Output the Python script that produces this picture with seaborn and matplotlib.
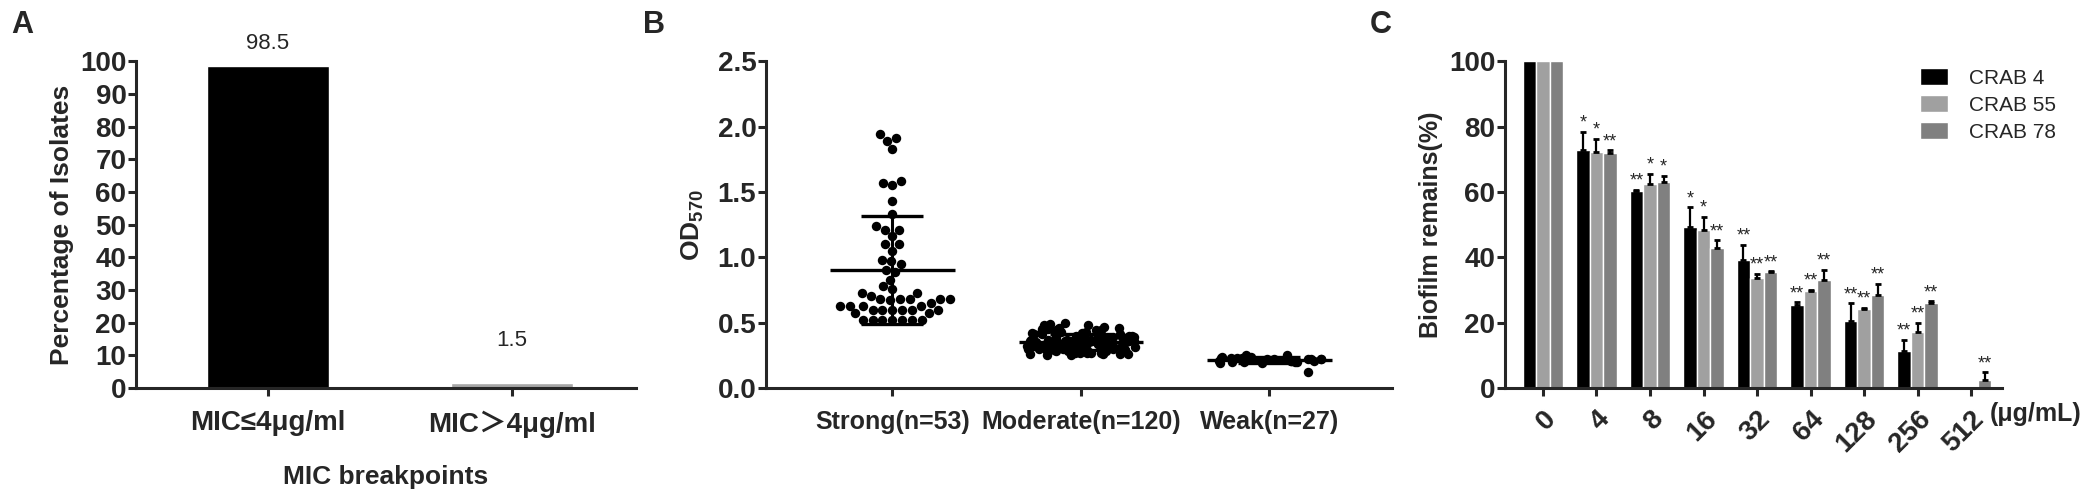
import numpy as np
import pandas as pd
import matplotlib
matplotlib.use('Agg')
import matplotlib.pyplot as plt
import seaborn as sns

# ---- panel A data
mic_groups = ['MIC≤4μg/ml', 'MIC＞4μg/ml']
mic_percent = [98.5, 1.5]
mic_colors = ['#000000', '#a6a6a6']

# ---- panel B data (OD570 per isolate)
biofilm_groups = ['Strong(n=53)', 'Moderate(n=120)', 'Weak(n=27)']
strong_od = [1.94, 1.91, 1.89, 1.83, 1.57, 1.58, 1.55, 1.43, 1.33, 1.24,
             1.21, 1.21, 1.16, 1.10, 1.10, 1.05, 0.97, 0.98, 0.95, 0.90,
             0.89, 0.83, 0.76, 0.78, 0.73, 0.73, 0.70, 0.68, 0.68, 0.68,
             0.68, 0.68, 0.67, 0.65, 0.63, 0.63, 0.63, 0.63, 0.60, 0.60,
             0.60, 0.60, 0.60, 0.60, 0.57, 0.57, 0.52, 0.52, 0.52, 0.52,
             0.52, 0.52, 0.52]
moderate_od = [0.27, 0.31, 0.35, 0.42, 0.29, 0.38, 0.33, 0.45, 0.26, 0.36,
               0.30, 0.40, 0.34, 0.28, 0.44, 0.37, 0.32, 0.48, 0.29, 0.35,
               0.39, 0.27, 0.33, 0.41, 0.36, 0.30, 0.46, 0.34, 0.28, 0.38,
               0.31, 0.43, 0.35, 0.26, 0.37, 0.32, 0.40, 0.29, 0.50, 0.34,
               0.36, 0.28, 0.42, 0.33, 0.30, 0.39, 0.27, 0.35, 0.44, 0.31,
               0.37, 0.25, 0.34, 0.41, 0.29, 0.36, 0.47, 0.32, 0.38, 0.28,
               0.33, 0.40, 0.30, 0.35, 0.43, 0.27, 0.37, 0.31, 0.39, 0.49,
               0.26, 0.34, 0.38, 0.29, 0.36, 0.42, 0.32, 0.28, 0.45, 0.35,
               0.30, 0.37, 0.33, 0.40, 0.27, 0.34, 0.39, 0.31, 0.36, 0.46,
               0.29, 0.35, 0.41, 0.32, 0.38, 0.26, 0.44, 0.33, 0.37, 0.30,
               0.34, 0.28, 0.39, 0.36, 0.31, 0.43, 0.35, 0.27, 0.40, 0.32,
               0.38, 0.30, 0.35, 0.48, 0.33, 0.29, 0.37, 0.42, 0.25, 0.36]
weak_od = [0.23, 0.21, 0.24, 0.22, 0.20, 0.25, 0.22, 0.19, 0.23, 0.21,
           0.24, 0.22, 0.22, 0.12, 0.20, 0.23, 0.21, 0.21, 0.24, 0.19,
           0.22, 0.25, 0.20, 0.23, 0.21, 0.22, 0.20]

# ---- panel C data (biofilm remaining %, mean and SD)
conc = ['0', '4', '8', '16', '32', '64', '128', '256', '512']
strains = ['CRAB 4', 'CRAB 55', 'CRAB 78']
crab4 = [100, 72.7, 60.2, 49.4, 39.3, 25.5, 20.6, 11.2, 0]
crab4_sd = [0, 5.7, 0.5, 5.9, 4.6, 0.7, 5.4, 3.6, 0]
crab55 = [100, 72.1, 62.4, 48.2, 33.6, 29.7, 24.1, 17.0, 0]
crab55_sd = [0, 4.2, 3.2, 4.2, 1.3, 0.4, 0.5, 2.9, 0]
crab78 = [100, 71.9, 62.9, 42.9, 35.4, 33.0, 28.4, 25.9, 2.6]
crab78_sd = [0, 0.8, 2.1, 2.3, 0.3, 3.2, 3.5, 0.6, 2.3]
crab4_sig = ['', '*', '**', '*', '**', '**', '**', '**', '']
crab55_sig = ['', '*', '*', '*', '**', '**', '**', '**', '']
crab78_sig = ['', '**', '*', '**', '**', '**', '**', '**', '**']
strain_colors = ['#000000', '#a0a0a0', '#808080']

sns.set_style('ticks')
plt.rcParams['font.family'] = ['Liberation Sans', 'Noto Sans CJK SC', 'DejaVu Sans']
plt.rcParams['mathtext.fontset'] = 'custom'
plt.rcParams['mathtext.rm'] = 'Liberation Sans:bold'
plt.rcParams['mathtext.default'] = 'rm'

fig = plt.figure(figsize=(20.81, 4.96), dpi=100)
axA = fig.add_axes([0.0654, 0.2177, 0.2402, 0.659])
axB = fig.add_axes([0.3681, 0.2177, 0.3008, 0.659])
axC = fig.add_axes([0.7232, 0.2177, 0.2389, 0.659])


def style_axis(ax, xsize=20):
    sns.despine(ax=ax)
    for s in ['left', 'bottom']:
        ax.spines[s].set_linewidth(2.2)
    ax.tick_params(axis='both', width=2.2, length=6, labelsize=20)
    ax.tick_params(axis='x', labelsize=xsize, pad=10)
    ax.tick_params(axis='y', pad=1)
    for lab in ax.get_xticklabels() + ax.get_yticklabels():
        lab.set_fontweight('bold')


# ---------------- A
df_a = pd.DataFrame({'group': mic_groups, 'percent': mic_percent})
sns.barplot(x='group', y='percent', data=df_a, hue='group', palette=mic_colors,
            width=0.5, saturation=1, legend=False, ax=axA)
for i, (v, off) in enumerate(zip(mic_percent, [16, 31])):
    axA.annotate(str(v), (i, v), xytext=(0, off), textcoords='offset points',
                 ha='center', va='center', fontsize=16)
axA.set_ylim(0, 100)
axA.set_yticks(range(0, 101, 10))
axA.set_xlim(-0.54, 1.51)
axA.set_xlabel('MIC breakpoints', fontsize=19, fontweight='bold', labelpad=20)
axA.set_ylabel('Percentage of Isolates', fontsize=19, fontweight='bold', labelpad=4)
style_axis(axA)

# ---------------- B
df_b = pd.DataFrame({
    'group': [biofilm_groups[0]] * len(strong_od) + [biofilm_groups[1]] * len(moderate_od)
             + [biofilm_groups[2]] * len(weak_od),
    'od': strong_od + moderate_od + weak_od,
})
np.random.seed(3)
sns.swarmplot(x='group', y='od', data=df_b[df_b['group'] == biofilm_groups[0]],
              order=biofilm_groups, color='black', size=6.8, ax=axB)
sns.stripplot(x='group', y='od', data=df_b[df_b['group'] != biofilm_groups[0]],
              order=biofilm_groups, color='black', size=6.8, jitter=0.3, ax=axB)
stats = df_b.groupby('group', sort=False)['od'].agg(['mean', 'std'])
for i, g in enumerate(biofilm_groups):
    m, sd = stats.loc[g, 'mean'], stats.loc[g, 'std']
    axB.hlines(m, i - 0.33, i + 0.33, color='black', lw=2.4, zorder=5)
    axB.errorbar(i, m, yerr=sd, fmt='none', ecolor='black', elinewidth=2.2,
                 capsize=22, capthick=2.4, zorder=5)
axB.set_ylim(0, 2.5)
axB.set_yticks([0, 0.5, 1.0, 1.5, 2.0, 2.5])
axB.set_yticklabels(['0.0', '0.5', '1.0', '1.5', '2.0', '2.5'])
axB.set_xlim(-0.67, 2.65)
axB.set_xlabel('')
axB.set_ylabel('OD$_{570}$', fontsize=19, fontweight='bold', labelpad=8)
style_axis(axB, xsize=18)

# ---------------- C
df_c = pd.DataFrame({
    'conc': conc * 3,
    'strain': [s for s in strains for _ in conc],
    'value': crab4 + crab55 + crab78,
})
sns.barplot(x='conc', y='value', hue='strain', data=df_c, palette=strain_colors,
            width=0.76, saturation=1, errorbar=None, ax=axC)
sds = [crab4_sd, crab55_sd, crab78_sd]
sigs = [crab4_sig, crab55_sig, crab78_sig]
for cont, sd_list, sig_list in zip(axC.containers, sds, sigs):
    for bar, sd, sig in zip(cont, sd_list, sig_list):
        xc = bar.get_x() + bar.get_width() / 2
        h = bar.get_height()
        if sd > 0:
            axC.errorbar(xc, h, yerr=[[0], [sd]], fmt='none', ecolor='black',
                         elinewidth=1.6, capsize=2.5, capthick=2)
        if sig:
            axC.annotate(sig, (xc, h + sd), xytext=(0, 0), textcoords='offset points',
                         ha='center', va='bottom', fontsize=13)
axC.set_ylim(0, 100)
axC.set_yticks(range(0, 101, 20))
axC.set_xlim(-0.71, 8.58)
axC.set_xlabel('')
axC.set_ylabel('Biofilm remains(%)', fontsize=18, fontweight='bold', labelpad=4)
style_axis(axC)
for lab in axC.get_xticklabels():
    lab.set_rotation(45)
    lab.set_ha('right')
    lab.set_rotation_mode('anchor')
axC.tick_params(axis='x', pad=7)
axC.text(0.975, -0.08, '(μg/mL)', transform=axC.transAxes, fontsize=18,
         fontweight='bold', ha='left', va='center')
axC.legend(loc='upper left', bbox_to_anchor=(0.835, 0.98), frameon=False,
           fontsize=15, handlelength=1.35, handleheight=0.9, handletextpad=1.0,
           labelspacing=0.35, borderpad=0, borderaxespad=0)

# panel letters
for x, letter in [(0.0053, 'A'), (0.309, 'B'), (0.6584, 'C')]:
    fig.text(x, 0.95, letter, fontsize=22, fontweight='bold', ha='left', va='center')

fig.savefig('out.png', dpi=100)
